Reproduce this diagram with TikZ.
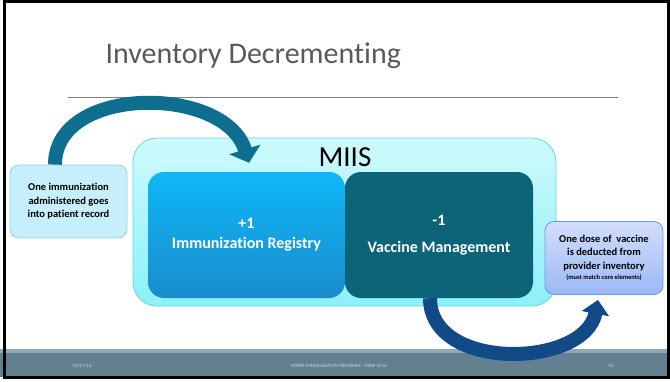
\documentclass[tikz,border=0pt]{standalone}
\usepackage{fontspec}
\setmainfont{Carlito}[Ligatures=NoCommon]
\usetikzlibrary{arrows.meta,positioning}

\definecolor{miisfill}{RGB}{206,250,252}
\definecolor{miisdeep}{RGB}{140,240,250}
\definecolor{miisline}{RGB}{94,216,230}
\definecolor{regtop}{RGB}{14,184,248}
\definecolor{regbot}{RGB}{26,140,204}
\definecolor{vaccfill}{RGB}{13,100,121}
\definecolor{patfill}{RGB}{198,238,251}
\definecolor{patline}{RGB}{134,217,223}
\definecolor{invtop}{RGB}{210,222,251}
\definecolor{invbot}{RGB}{154,184,246}
\definecolor{invline}{RGB}{106,154,230}
\definecolor{toparrowcol}{RGB}{14,110,143}
\definecolor{botarrowcol}{RGB}{17,74,134}
\definecolor{footercol}{RGB}{98,128,144}
\definecolor{footerstripe}{RGB}{143,169,182}
\definecolor{footertext}{RGB}{205,218,226}
\definecolor{titlecol}{RGB}{90,90,90}

\tikzset{
  sidebox/.style={draw, line width=0.8pt, rounded corners=9pt, inner sep=0pt,
    align=center, font=\bfseries\fontsize{10.5}{13.5}\selectfont},
  corebox/.style={rounded corners=16pt, inner sep=0pt, align=center, text=white,
    minimum height=126pt, font=\bfseries\fontsize{16}{20}\selectfont},
  bigarrow/.style={line width=14pt, -{Triangle[length=14pt,width=32pt]}},
  footnote/.style={text=footertext, font=\fontsize{5}{6}\selectfont}
}

\begin{document}
\begin{tikzpicture}[x=1pt,y=-1pt]
    % Fix the slide size
    \useasboundingbox (0,0) rectangle (670,381);

    % Title and rule under it
    \node[anchor=base west, text=titlecol, font=\fontsize{30}{36}\selectfont] (title) at (102,63) {Inventory Decrementing};
    \draw[gray, line width=0.8pt] (68,97) -- (618,97);

    % Draw the MIIS container
    \node[draw=miisline, line width=0.8pt, rounded corners=24pt, top color=miisfill, bottom color=miisdeep,
          minimum width=423pt, minimum height=168pt] (miis) at (344.5,222) {};
    \node[font=\fontsize{29}{34}\selectfont] (miislabel) at (345,157) {MIIS};

    % The two parts of MIIS
    \node[corebox, top color=regtop, bottom color=regbot, minimum width=197pt] (registry) at (246.5,235)
        {+1\\Immunization Registry};
    \node[corebox, fill=vaccfill, minimum width=188pt] (vaccmgmt) at (439,235)
        {-1\\[7pt]Vaccine Management};

    % Side boxes
    \node[sidebox, draw=patline, fill=patfill, minimum width=117pt, minimum height=73pt] (patient) at (68.5,201.5)
        {One immunization\\administered goes\\into patient record};
    \node[sidebox, draw=invline, top color=invtop, bottom color=invbot, minimum width=118pt, minimum height=73pt] (inventory) at (604,258)
        {One dose of\ \ vaccine\\is deducted from\\provider inventory\\[-3pt]{\fontsize{6.5}{8}\selectfont(must match core elements)}};

    % Footer band
    \fill[footercol] (0,349) rectangle (670,377);
    \fill[footerstripe] (0,349) rectangle (670,353);
    \node[footnote] (date) at (82,366) {10/27/16};
    \node[footnote] (program) at (339,366) {MDPH IMMUNIZATION PROGRAM - MIAP 2016};
    \node[footnote] (pagenum) at (611,366) {43};

    % Curved arrows
    \coordinate (topstart) at ([xshift=-13.5pt]patient.north);
    \coordinate (topend) at ([xshift=2.5pt,yshift=9pt]registry.north);
    \draw[bigarrow, toparrowcol] (topstart) .. controls +(0,-80) and +(-24,-78) .. (topend);

    \coordinate (botstart) at ([xshift=-9pt]vaccmgmt.south);
    \coordinate (botend) at ([xshift=-6pt,yshift=-5pt]inventory.south);
    \draw[bigarrow, botarrowcol, -{Triangle[length=14pt,width=27pt]}] (botstart) .. controls +(0,74) and +(-13,68) .. (botend);

    % Slide frame
    \draw[black, line width=3pt] (4.5,1.5) rectangle (668.5,377.5);
\end{tikzpicture}
\end{document}
